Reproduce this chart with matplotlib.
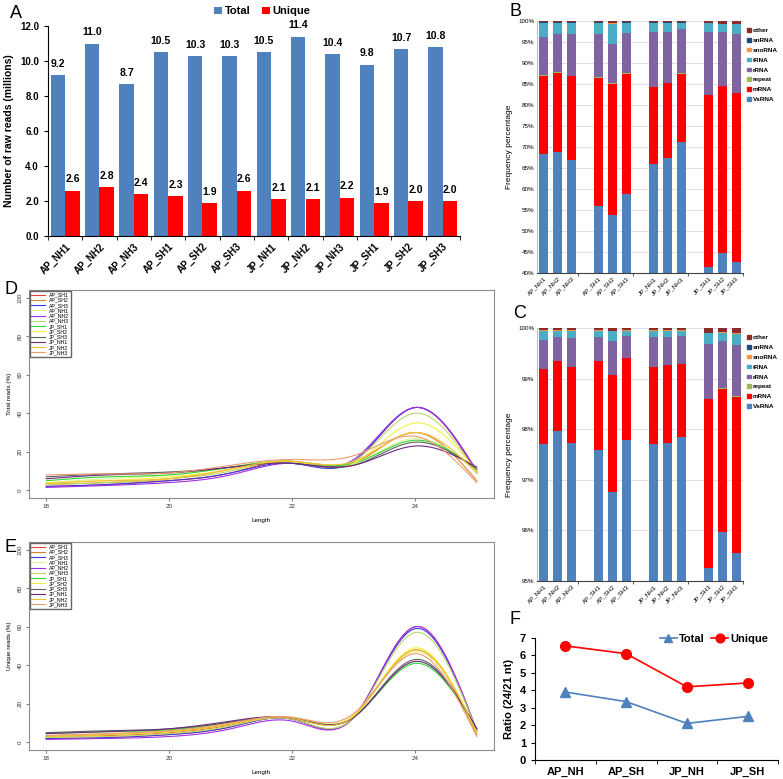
import numpy as np
import matplotlib
matplotlib.use("Agg")
import matplotlib.pyplot as plt
from matplotlib.patches import Patch

plt.rcParams['font.family'] = ['Liberation Sans', 'DejaVu Sans']

# =====================================================
# DATA
# =====================================================
samples = ['AP_NH1', 'AP_NH2', 'AP_NH3', 'AP_SH1', 'AP_SH2', 'AP_SH3',
           'JP_NH1', 'JP_NH2', 'JP_NH3', 'JP_SH1', 'JP_SH2', 'JP_SH3']
total_reads = [9.2, 11.0, 8.7, 10.5, 10.3, 10.3, 10.5, 11.4, 10.4, 9.8, 10.7, 10.8]
unique_reads = [2.6, 2.8, 2.4, 2.3, 1.9, 2.6, 2.1, 2.1, 2.2, 1.9, 2.0, 2.0]

rna_classes = ['VsRNA', 'mRNA', 'repeat', 'rRNA', 'tRNA', 'snoRNA', 'snRNA', 'other']
rna_colors = ['#4F81BD', '#FF0000', '#9BBB59', '#8064A2', '#4BACC6', '#F79646', '#1F497D', '#8B2C2C']

# panel B (total reads, %)
b_vsrna = [68.3, 68.9, 66.9, 55.9, 53.7, 58.7, 66.0, 67.3, 71.1, 41.4, 44.8, 42.6]
b_mrna = [18.6, 18.8, 19.9, 30.5, 31.3, 28.7, 18.2, 17.9, 16.4, 40.9, 39.7, 40.2]
b_repeat = [0.2, 0.15, 0.2, 0.15, 0.2, 0.15, 0.15, 0.15, 0.15, 0.1, 0.1, 0.1]
b_rrna = [9.2, 9.05, 10.0, 10.45, 9.4, 9.65, 13.05, 12.05, 10.45, 15.0, 12.8, 13.9]
b_trna = [3.3, 2.7, 2.6, 2.6, 4.8, 2.4, 2.2, 2.2, 1.5, 2.1, 1.9, 2.5]
b_snorna = [0.02] * 12
b_snrna = [0.03] * 12
b_other = [0.35, 0.35, 0.35, 0.35, 0.55, 0.35, 0.35, 0.35, 0.35, 0.45, 0.65, 0.65]

# panel C (unique reads, %)
c_vsrna = [97.70, 97.97, 97.72, 97.59, 96.75, 97.79, 97.70, 97.72, 97.84, 95.26, 95.97, 95.56]
c_mrna = [1.48, 1.37, 1.50, 1.76, 2.32, 1.62, 1.52, 1.54, 1.45, 3.33, 2.83, 3.08]
c_repeat = [0.005, 0.004, 0.005, 0.005, 0.01, 0.004, 0.005, 0.005, 0.005, 0.01, 0.008, 0.01]
c_rrna = [0.575, 0.486, 0.575, 0.475, 0.66, 0.436, 0.595, 0.555, 0.555, 1.09, 0.93, 1.01]
c_trna = [0.19, 0.12, 0.15, 0.12, 0.20, 0.10, 0.13, 0.13, 0.10, 0.21, 0.17, 0.23]
c_snorna = [0.002, 0.002, 0.002, 0.002, 0.002, 0.002, 0.002, 0.002, 0.002, 0.006, 0.004, 0.004]
c_snrna = [0.003, 0.003, 0.003, 0.003, 0.003, 0.003, 0.003, 0.003, 0.003, 0.004, 0.003, 0.012]
c_other = [0.05, 0.05, 0.05, 0.05, 0.06, 0.05, 0.05, 0.05, 0.05, 0.10, 0.09, 0.10]

# panels D/E: length distribution
lengths = [18, 19, 20, 21, 22, 23, 24, 25]
curve_samples = ['AP_SH1', 'AP_SH2', 'AP_SH3', 'AP_NH1', 'AP_NH2', 'AP_NH3',
                 'JP_SH1', 'JP_SH2', 'JP_SH3', 'JP_NH1', 'JP_NH2', 'JP_NH3']
curve_colors = ['#E8403A', '#D9822B', '#3A3AE0', '#E2F58A', '#A030E8', '#B8D86A',
                '#30D830', '#F4F040', '#606060', '#6A2C7A', '#F2C030', '#EC9A70']
total_pct = [
    [2.0, 3.0, 5.0, 9.0, 15.0, 15.0, 43.0, 9.0],
    [3.0, 4.0, 6.0, 11.0, 15.0, 14.0, 30.0, 5.0],
    [2.0, 3.0, 5.0, 9.0, 14.0, 15.0, 43.0, 10.0],
    [4.0, 6.0, 8.0, 12.0, 15.0, 14.0, 27.0, 10.0],
    [1.5, 2.5, 4.0, 8.0, 14.0, 16.0, 43.0, 10.0],
    [3.0, 4.0, 6.0, 10.0, 15.0, 15.0, 40.0, 9.0],
    [5.0, 7.0, 8.0, 12.0, 15.0, 14.0, 26.0, 11.0],
    [4.0, 5.0, 7.0, 11.0, 15.0, 14.0, 35.0, 10.0],
    [7.0, 8.5, 9.5, 12.0, 14.0, 13.0, 25.0, 11.0],
    [6.0, 8.0, 9.0, 12.0, 14.0, 13.0, 23.0, 12.0],
    [3.5, 5.0, 6.0, 11.0, 15.0, 15.0, 30.0, 9.0],
    [8.0, 8.5, 9.0, 13.0, 16.0, 18.0, 28.0, 4.0],
]
unique_pct = [
    [2.0, 2.5, 4.0, 8.0, 12.0, 13.0, 60.0, 6.0],
    [3.0, 3.5, 5.0, 9.0, 12.5, 14.0, 48.0, 4.0],
    [2.0, 2.5, 4.0, 8.0, 12.0, 13.0, 59.0, 6.0],
    [3.5, 4.5, 6.0, 10.0, 13.0, 14.0, 47.0, 6.0],
    [1.5, 2.0, 3.0, 7.0, 11.0, 13.0, 60.0, 6.0],
    [2.5, 3.0, 4.5, 8.5, 12.0, 13.0, 57.0, 6.0],
    [4.5, 5.5, 6.5, 10.5, 12.5, 13.0, 41.0, 7.0],
    [3.0, 4.0, 5.5, 9.5, 12.5, 14.0, 49.0, 5.0],
    [5.0, 6.0, 7.0, 10.5, 12.5, 13.0, 43.0, 7.0],
    [4.5, 5.5, 7.0, 11.0, 12.5, 13.0, 42.0, 7.0],
    [3.0, 4.0, 5.5, 9.5, 12.5, 13.5, 48.0, 5.0],
    [3.5, 4.5, 6.0, 10.0, 13.0, 15.0, 46.0, 3.0],
]

# panel F
groups = ['AP_NH', 'AP_SH', 'JP_NH', 'JP_SH']
ratio_total = [3.9, 3.35, 2.1, 2.5]
ratio_unique = [6.55, 6.1, 4.2, 4.42]


def natural_spline(x, y, xs):
    x = np.asarray(x, float)
    y = np.asarray(y, float)
    n = len(x)
    h = np.diff(x)
    A = np.zeros((n, n))
    b = np.zeros(n)
    A[0, 0] = A[-1, -1] = 1
    for i in range(1, n - 1):
        A[i, i - 1] = h[i - 1]
        A[i, i] = 2 * (h[i - 1] + h[i])
        A[i, i + 1] = h[i]
        b[i] = 6 * ((y[i + 1] - y[i]) / h[i] - (y[i] - y[i - 1]) / h[i - 1])
    M = np.linalg.solve(A, b)
    idx = np.clip(np.searchsorted(x, xs) - 1, 0, n - 2)
    x0, x1 = x[idx], x[idx + 1]
    hi = x1 - x0
    t1 = x1 - xs
    t2 = xs - x0
    return (M[idx] * t1 ** 3 / (6 * hi) + M[idx + 1] * t2 ** 3 / (6 * hi)
            + (y[idx] / hi - M[idx] * hi / 6) * t1 + (y[idx + 1] / hi - M[idx + 1] * hi / 6) * t2)


W, H = 783, 779
fig = plt.figure(figsize=(W / 100, H / 100), dpi=100)


def box(l, t, r, b):
    return [l / W, 1 - b / H, (r - l) / W, (b - t) / H]


# =====================================================
# A: raw reads
# =====================================================
ax = fig.add_axes(box(48, 26, 460, 236))
x = np.arange(len(samples))
ax.bar(x - 0.21, total_reads, 0.42, color='#4F81BD', label='Total')
ax.bar(x + 0.21, unique_reads, 0.42, color='#FF0000', label='Unique')
for i in range(len(samples)):
    ax.text(x[i] - 0.21, total_reads[i] + 0.35, '%.1f' % total_reads[i], ha='center', va='bottom',
            fontsize=7.5, fontweight='bold')
    ax.text(x[i] + 0.21, unique_reads[i] + 0.35, '%.1f' % unique_reads[i], ha='center', va='bottom',
            fontsize=7.5, fontweight='bold')
ax.set_xlim(-0.5, len(samples) - 0.5)
ax.set_ylim(0, 12)
ax.set_yticks(np.arange(0, 12.1, 2))
ax.set_yticklabels(['%.1f' % v for v in np.arange(0, 12.1, 2)], fontsize=7, fontweight='bold')
ax.set_xticks(x)
ax.set_xticklabels(samples, rotation=45, ha='right', rotation_mode='anchor', fontsize=7, fontweight='bold')
ax.set_xticks(np.arange(-0.5, len(samples), 1), minor=True)
ax.tick_params(axis='x', which='major', length=0, pad=4)
ax.tick_params(axis='x', which='minor', length=3, direction='out')
ax.tick_params(axis='y', length=3, direction='out')
ax.spines['top'].set_visible(False)
ax.spines['right'].set_visible(False)
ax.set_ylabel('Number of raw reads (millions)', fontsize=7.5, fontweight='bold')
ax.legend(loc='center', bbox_to_anchor=(0.52, 1.07), ncol=2, frameon=False,
          prop={'weight': 'bold', 'size': 8}, handlelength=0.7, handleheight=0.7,
          handletextpad=0.3, columnspacing=1.0)
fig.text(10 / W, 1 - 13 / H, 'A', fontsize=13, va='center')


# =====================================================
# B and C: stacked class percentages
# =====================================================
bar_pos = [0, 1, 2, 4, 5, 6, 8, 9, 10, 12, 13, 14]


def stacked(rect, series, ylo, yticks, tick_fmt):
    ax = fig.add_axes(rect)
    bottom = np.zeros(len(bar_pos))
    for vals, col in zip(series, rna_colors):
        vals = np.asarray(vals, float)
        ax.bar(bar_pos, vals, 0.66, bottom=bottom, color=col, zorder=2)
        bottom += vals
    ax.set_xlim(-0.5, 14.5)
    ax.set_ylim(ylo, 100)
    ax.set_yticks(yticks)
    ax.set_yticklabels([tick_fmt % v for v in yticks], fontsize=4.5)
    ax.yaxis.grid(True, color='#D9D9D9', lw=0.6, zorder=0)
    ax.set_xticks(bar_pos)
    ax.set_xticklabels(samples, rotation=45, ha='right', rotation_mode='anchor', fontsize=4.5)
    ax.set_xticks([2.5, 6.5, 10.5, 14.5], minor=True)
    ax.tick_params(axis='x', which='major', length=0, pad=2)
    ax.tick_params(axis='x', which='minor', length=2.5, color='#404040')
    ax.tick_params(axis='y', length=0, pad=2)
    for s in ['top', 'right']:
        ax.spines[s].set_visible(False)
    ax.spines['left'].set_color('#BFBFBF')
    ax.spines['bottom'].set_color('#404040')
    ax.set_ylabel('Frequency percentage', fontsize=6)
    handles = [Patch(color=c, label=l) for c, l in zip(rna_colors, rna_classes)][::-1]
    ax.legend(handles=handles, loc='upper left', bbox_to_anchor=(1.0, 0.99), frameon=False,
              prop={'weight': 'bold', 'size': 4.6}, handlelength=0.5, handleheight=0.5,
              handletextpad=0.3, labelspacing=0.75, borderaxespad=0.3)
    return ax


stacked(box(537, 21, 743, 273),
        [b_vsrna, b_mrna, b_repeat, b_rrna, b_trna, b_snorna, b_snrna, b_other],
        40, np.arange(40, 101, 5), '%d%%')
fig.text(510 / W, 1 - 11 / H, 'B', fontsize=13, va='center')

stacked(box(537, 328, 743, 581),
        [c_vsrna, c_mrna, c_repeat, c_rrna, c_trna, c_snorna, c_snrna, c_other],
        95, np.arange(95, 101, 1), '%d%%')
fig.text(513 / W, 1 - 314 / H, 'C', fontsize=13, va='center')


# =====================================================
# D and E: length distribution curves
# =====================================================
xs = np.linspace(18, 25, 300)


def curves(rect, data, ylabel):
    ax = fig.add_axes(rect)
    for name, col, vals in zip(curve_samples, curve_colors, data):
        ax.plot(xs, natural_spline(lengths, vals, xs), color=col, lw=0.8, label=name)
    ax.set_xlim(17.72, 25.28)
    ax.set_ylim(-4, 104)
    ax.set_xticks([18, 20, 22, 24])
    ax.set_yticks([0, 20, 40, 60, 80, 100])
    ax.tick_params(labelsize=4.5, length=2.5, color='#808080', labelcolor='#333333', pad=2)
    for lab in ax.get_yticklabels():
        lab.set_rotation(90)
        lab.set_va('center')
    for s in ax.spines.values():
        s.set_color('#8C8C8C')
    ax.set_xlabel('Length', fontsize=4.5, labelpad=6)
    ax.set_ylabel(ylabel, fontsize=4.5, labelpad=4)
    ax.legend(loc='upper left', fontsize=3.8, frameon=True, fancybox=False, edgecolor='#404040',
              handlelength=2.5, labelspacing=0.05, borderpad=0.3, borderaxespad=0.15)
    return ax


curves(box(29, 290, 494, 498), total_pct, 'Total reads (%)')
fig.text(5 / W, 1 - 290 / H, 'D', fontsize=13, va='center')
curves(box(29, 542, 494, 750), unique_pct, 'Unique reads (%)')
fig.text(5 / W, 1 - 548 / H, 'E', fontsize=13, va='center')


# =====================================================
# F: ratio 24/21 nt
# =====================================================
ax = fig.add_axes(box(535, 638, 778, 760))
g = np.arange(len(groups))
ax.plot(g, ratio_total, color='#4F81BD', marker='^', ms=7, lw=1.2, label='Total')
ax.plot(g, ratio_unique, color='#FF0000', marker='o', ms=7, lw=1.2, label='Unique')
ax.set_xlim(-0.5, 3.5)
ax.set_ylim(0, 7)
ax.set_yticks(range(0, 8))
ax.set_yticklabels([str(v) for v in range(0, 8)], fontsize=8, fontweight='bold')
ax.set_xticks(g)
ax.set_xticklabels(groups, fontsize=8, fontweight='bold')
ax.set_xticks(np.arange(-0.5, 4, 1), minor=True)
ax.tick_params(axis='x', which='major', length=0, pad=5)
ax.tick_params(axis='x', which='minor', length=3)
ax.tick_params(axis='y', length=3)
ax.spines['top'].set_visible(False)
ax.spines['right'].set_visible(False)
ax.set_ylabel('Ratio (24/21 nt)', fontsize=8, fontweight='bold')
ax.legend(loc='center right', bbox_to_anchor=(1.0, 0.99), ncol=2, frameon=False,
          prop={'weight': 'bold', 'size': 8}, handlelength=1.5, handletextpad=0.2,
          columnspacing=0.6, markerscale=0.9)
fig.text(510 / W, 1 - 619 / H, 'F', fontsize=13, va='center')

fig.savefig('out.png', dpi=100)
